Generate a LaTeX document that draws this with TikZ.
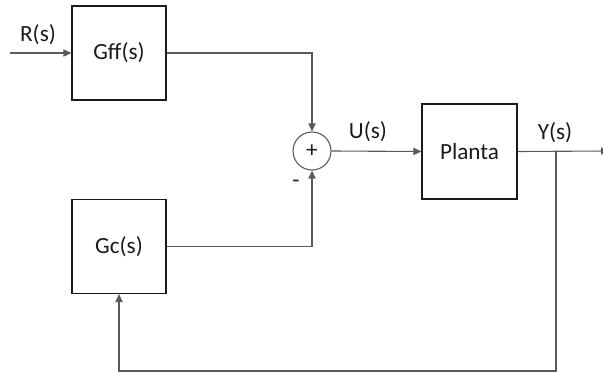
\documentclass[tikz,border=0pt]{standalone}
\usepackage{fontspec}
\setmainfont{Carlito}
\usetikzlibrary{arrows.meta,positioning}
\definecolor{wire}{HTML}{5A5A5A}
\definecolor{ink}{HTML}{1A1A1A}

\begin{document}
\begin{tikzpicture}[x=0.5pt,y=-0.5pt,text=ink,
    >={Triangle[length=4pt,width=3.6pt]},
    font=\fontsize{11.6}{14}\selectfont,
    block/.style={draw=ink,line width=0.55pt,minimum size=47pt,inner sep=0pt},
    sumnode/.style={draw=wire,circle,line width=0.55pt,minimum size=19pt,inner sep=0pt},
    wire/.style={draw=wire,line width=0.55pt}]
  \useasboundingbox (0,0) rectangle (603,373);

  \node[block] (gff) at (119,53) {Gff(s)};
  \node[block] (gc) at (119,246.5) {Gc(s)};
  \node[sumnode] (sum) at (312,151) {+};
  \node[block,minimum size=47.5pt] (planta) at (469.5,151.5) {Planta};

  \coordinate (in) at (10,53);
  \coordinate (out) at (609,151);
  \coordinate (tap) at (556,151);
  \coordinate (low) at (556,371);

  % signals
  \draw[wire,->] (in) -- (gff.west);
  \draw[wire,->] (gff.east) -| (sum.north);
  \draw[wire,->] (gc.east) -| (sum.south);
  \draw[wire,->] (sum.east) -- (planta.west);
  \draw[wire,->] (planta.east) -- (out);
  \draw[wire,->] (tap) -- (low) -| (gc.south);

  % labels
  \node (rlab) at (38,35) {R(s)};
  \node (ulab) at (368,132) {U(s)};
  \node (ylab) at (555,133) {Y(s)};
  \node (minus) at (296,184) {-};
\end{tikzpicture}
\end{document}
